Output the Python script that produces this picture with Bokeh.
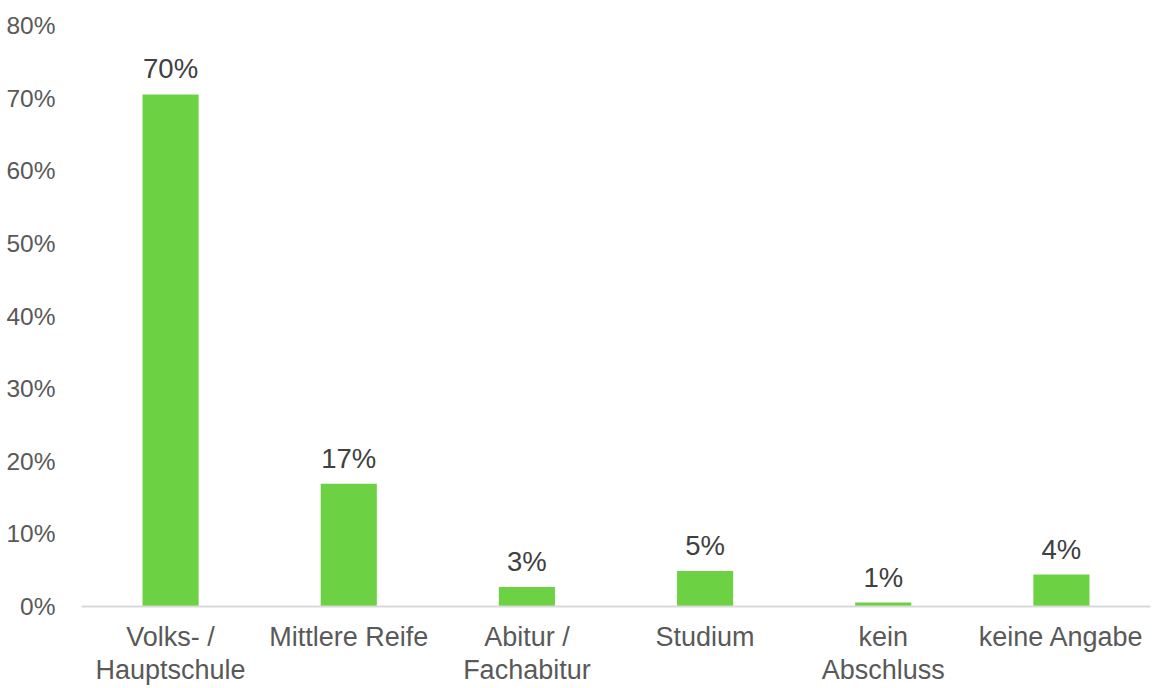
from bokeh.plotting import figure
from bokeh.models import ColumnDataSource, FixedTicker, PrintfTickFormatter, FactorRange, Range1d
from bokeh.core.properties import value
from bokeh.embed import file_html
from bokeh.resources import INLINE

categories = ["Volks- /\nHauptschule", "Mittlere Reife", "Abitur /\nFachabitur", "Studium", "kein\nAbschluss", "keine Angabe"]
shares = [70.5, 16.9, 2.7, 4.9, 0.55, 4.4]
share_labels = ["70%", "17%", "3%", "5%", "1%", "4%"]
y_ticks = [0, 10, 20, 30, 40, 50, 60, 70, 80]

FONT = "Liberation Sans"

src = ColumnDataSource(dict(cat=categories, val=shares, lab=share_labels))

p = figure(width=1153, height=688, output_backend="svg", toolbar_location=None,
           x_range=FactorRange(*categories), y_range=Range1d(0, 80),
           min_border_left=81, min_border_right=3, min_border_top=25, min_border_bottom=80)
p.outline_line_color = None
p.grid.grid_line_color = None
p.background_fill_color = "white"
p.border_fill_color = "white"

p.vbar(x="cat", top="val", width=0.315, source=src, color="#6cd143", line_color=None)
p.text(x="cat", y="val", text="lab", source=src, text_align="center", text_baseline="bottom",
       y_offset=-10, text_font=value(FONT), text_font_size="27.5px", text_color="#404040")

ya = p.yaxis[0]
ya.ticker = FixedTicker(ticks=y_ticks)
ya.formatter = PrintfTickFormatter(format="%d%%")
ya.axis_line_color = None
ya.major_tick_line_color = None
ya.minor_tick_line_color = None
ya.major_label_text_font = FONT
ya.major_label_text_font_size = "24.5px"
ya.major_label_text_color = "#595959"
ya.major_label_standoff = 20

xa = p.xaxis[0]
xa.axis_line_color = "#d9d9d9"
xa.axis_line_width = 2
xa.major_tick_line_color = None
xa.minor_tick_line_color = None
xa.major_label_text_font = FONT
xa.major_label_text_font_size = "27px"
xa.major_label_text_color = "#595959"
xa.major_label_standoff = 9
xa.major_label_text_line_height = 1.13

open("out.html", "w").write(file_html(p, INLINE))
